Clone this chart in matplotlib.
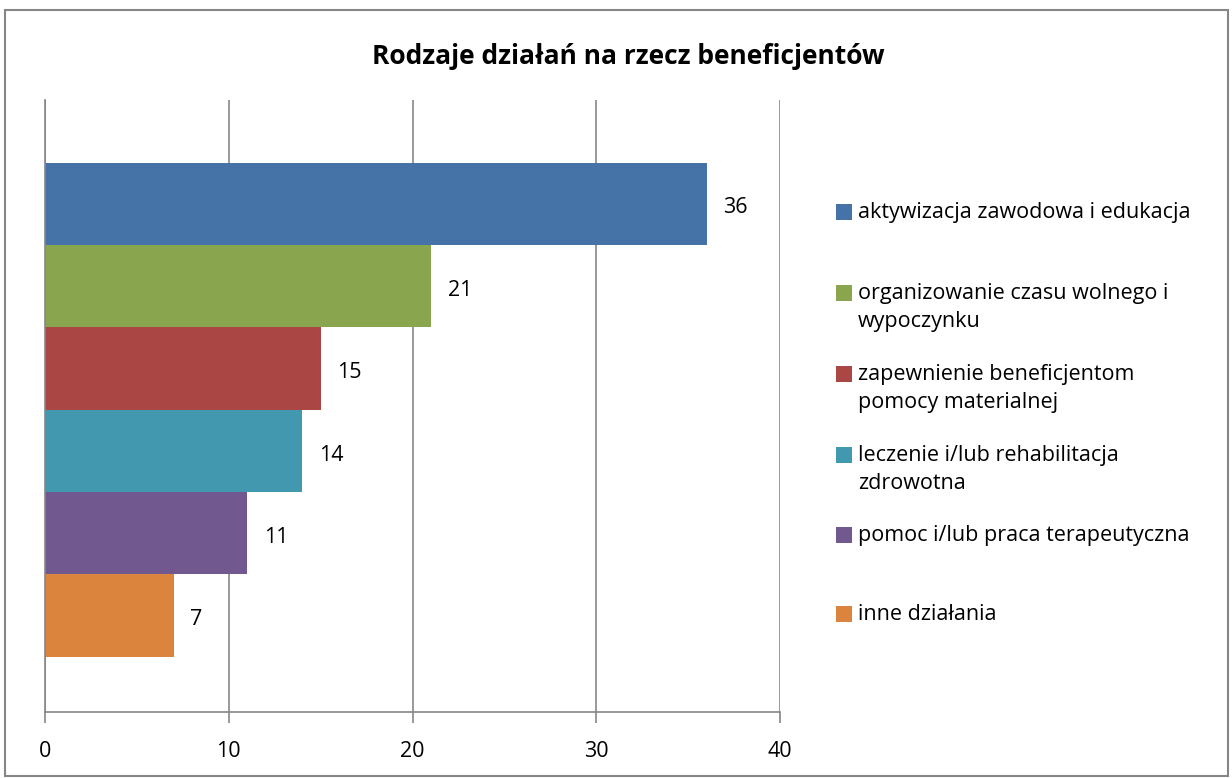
import matplotlib.pyplot as plt
from matplotlib.patches import Rectangle

# data
categories = ['aktywizacja zawodowa i edukacja',
              'organizowanie czasu wolnego i\nwypoczynku',
              'zapewnienie beneficjentom\npomocy materialnej',
              'leczenie i/lub rehabilitacja\nzdrowotna',
              'pomoc i/lub praca terapeutyczna',
              'inne działania']
values = [36, 21, 15, 14, 11, 7]
colors = ['#4572A7', '#89A54E', '#AA4643', '#4198AF', '#71588F', '#DB843D']
x_ticks = [0, 10, 20, 30, 40]
title = 'Rodzaje działań na rzecz beneficjentów'

plt.rcParams['font.family'] = ['Open Sans', 'DejaVu Sans']

W, H = 1232, 778
fig = plt.figure(figsize=(W / 100, H / 100), dpi=100)
fig.patch.set_facecolor('white')

# outer border like the Excel chart area
fig.add_artist(Rectangle((5 / W, 1 - 776 / H), 1223 / W, 766 / H, transform=fig.transFigure,
                         fill=False, edgecolor='#868686', linewidth=1.5))

ax = fig.add_axes([45 / W, 1 - 712 / H, 735 / W, 612 / H])
pos = list(range(len(values)))
ax.barh(pos, values, height=1.0, color=colors)
ax.set_ylim(6.17, -1.26)
ax.set_xlim(0, 40)
ax.set_xticks(x_ticks)
ax.set_yticks([])
ax.grid(axis='x', color='#868686', linewidth=1.2)
ax.set_axisbelow(True)
for s in ['top', 'right']:
    ax.spines[s].set_visible(False)
ax.spines['left'].set_color('#868686')
ax.spines['bottom'].set_color('#868686')
ax.spines['left'].set_linewidth(1.2)
ax.spines['bottom'].set_linewidth(1.2)
ax.tick_params(axis='x', direction='out', length=8, width=1.2, color='#868686',
               labelsize=15.5, pad=13)

for p, v in zip(pos, values):
    ax.annotate(str(v), (v, p), xytext=(12, -3), textcoords='offset points',
                ha='left', va='center', fontsize=15.5)

fig.text(628 / W, 1 - 56 / H, title, ha='center', va='center', fontsize=19, fontweight='bold')

# legend drawn by hand to keep Excel's uneven spacing
leg_y = [212, 293, 374, 455, 535, 614]
for lab, c, y in zip(categories, colors, leg_y):
    fig.add_artist(Rectangle((836 / W, 1 - (y + 8) / H), 16 / W, 16 / H,
                             transform=fig.transFigure, facecolor=c, edgecolor='none'))
    fig.text(858 / W, 1 - (y - 10) / H, lab, ha='left', va='top', fontsize=15.5,
             linespacing=1.45)

fig.savefig('out.png', dpi=100)
